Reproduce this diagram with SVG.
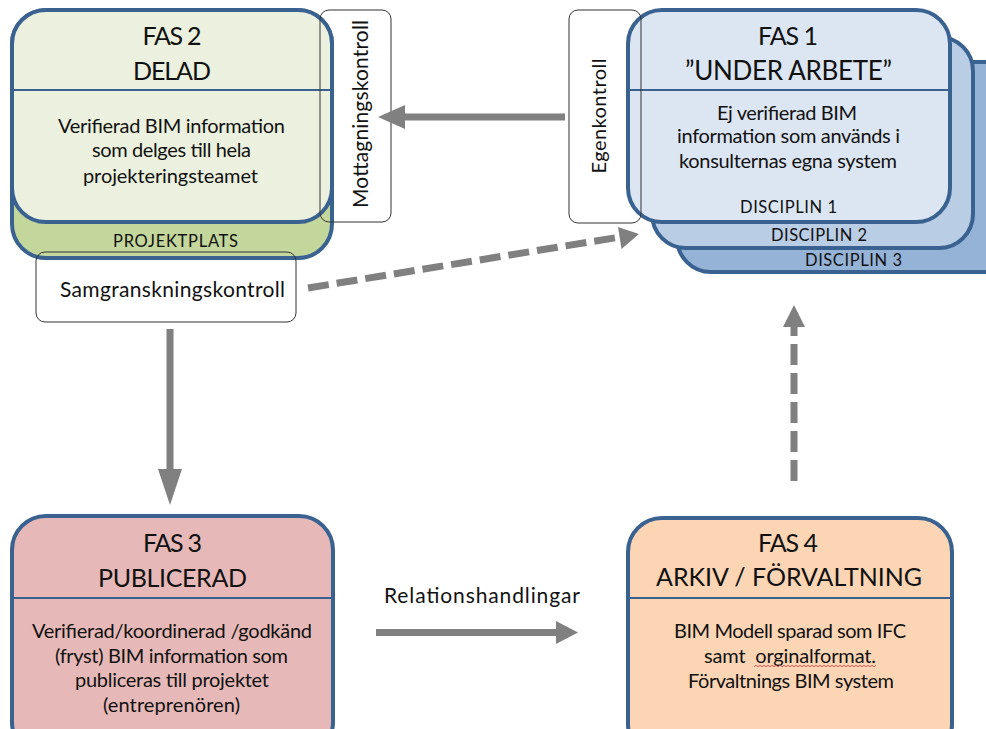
<svg xmlns="http://www.w3.org/2000/svg" width="986" height="729" viewBox="0 0 986 729">
<style>
.box{stroke:#3a6291;stroke-width:4}
.div{stroke:#3a6291;stroke-width:2}
.ctl{fill:none;stroke:#333;stroke-width:1}
text{font-family:Lato,"Liberation Sans",sans-serif;fill:#111;text-anchor:middle}
.t{font-size:25px}
.b{font-size:20px}
.w{font-size:21px}
.s{font-size:16.5px}
.arr{fill:#808080}
.dash{stroke:#808080;stroke-width:7;stroke-dasharray:21 8;fill:none}
</style>
<rect width="986" height="729" fill="#fff"/>
<g id="fas2">
<rect class="box" x="12" y="10" width="320" height="248" rx="34" fill="#c3d69b"/>
<rect class="box" x="12" y="10" width="320" height="212" rx="34" fill="#ebf1de"/>
<line class="div" x1="12" y1="90" x2="332" y2="90"/>
<text class="t" x="172" y="45" textLength="59">FAS 2</text>
<text class="t" x="172" y="80" textLength="78">DELAD</text>
<text class="b" x="171.5" y="133" textLength="227">Verifierad BIM information</text>
<text class="b" x="171.5" y="157" textLength="159">som delges till hela</text>
<text class="b" x="170.5" y="183" textLength="175">projekteringsteamet</text>
<text class="s" x="175.5" y="247" textLength="125">PROJEKTPLATS</text>
</g>
<g id="mottagningskontroll">
<rect class="ctl" x="320" y="10" width="71" height="212" rx="9"/>
<text class="w" transform="translate(368,114) rotate(-90)" textLength="188">Mottagningskontroll</text>
</g>
<g id="samgranskningskontroll">
<rect class="ctl" x="36" y="252" width="260" height="70" rx="9"/>
<text class="w" x="172.5" y="297" textLength="225">Samgranskningskontroll</text>
</g>
<g id="fas1">
<rect class="box" x="677" y="62" width="340" height="210" rx="34" fill="#95b3d7"/>
<rect class="box" x="652" y="37" width="321" height="211" rx="34" fill="#b9cde5"/>
<rect class="box" x="628" y="10" width="322" height="212" rx="34" fill="#dce6f2"/>
<line class="div" x1="628" y1="90" x2="950" y2="90"/>
<text class="t" x="788" y="45" textLength="60">FAS 1</text>
<text class="t" x="788.5" y="80" textLength="207" style="font-size:26px">”UNDER ARBETE”</text>
<text class="b" x="787" y="120" textLength="140">Ej verifierad BIM</text>
<text class="b" x="788.5" y="143" textLength="223">information som används i</text>
<text class="b" x="788" y="168" textLength="218">konsulternas egna system</text>
<text class="s" x="788.5" y="213" textLength="97">DISCIPLIN 1</text>
<text class="s" x="819" y="241" textLength="96">DISCIPLIN 2</text>
<text class="s" x="853.5" y="266" textLength="97">DISCIPLIN 3</text>
</g>
<g id="egenkontroll">
<rect class="ctl" x="569" y="10" width="72" height="213" rx="9"/>
<text class="b" transform="translate(606,116) rotate(-90)" textLength="115">Egenkontroll</text>
</g>
<g id="fas3">
<rect class="box" x="12" y="516" width="321" height="240" rx="34" fill="#e6b9b8"/>
<line class="div" x1="12" y1="598" x2="333" y2="598"/>
<text class="t" x="172.5" y="552" textLength="59">FAS 3</text>
<text class="t" x="172.5" y="587" textLength="149">PUBLICERAD</text>
<text class="b" x="172" y="638" textLength="280">Verifierad/koordinerad /godkänd</text>
<text class="b" x="171.5" y="663" textLength="233">(fryst) BIM information som</text>
<text class="b" x="172" y="687" textLength="194">publiceras till projektet</text>
<text class="b" x="171.5" y="712" textLength="137">(entreprenören)</text>
</g>
<g id="fas4">
<rect class="box" x="628" y="518" width="324" height="240" rx="34" fill="#fcd5b5"/>
<line class="div" x1="628" y1="598" x2="952" y2="598"/>
<text class="t" x="788" y="552" textLength="60">FAS 4</text>
<text class="t" x="789" y="586" textLength="266">ARKIV / FÖRVALTNING</text>
<text class="b" x="790" y="638" textLength="232">BIM Modell sparad som IFC</text>
<text class="b" x="790" y="663" textLength="172" xml:space="preserve">samt  orginalformat.</text>
<text class="b" x="791" y="688" textLength="206">Förvaltnings BIM system</text>
<path d="M754 667 l2 -2 l2 2 l2 -2 l2 2 l2 -2 l2 2 l2 -2 l2 2 l2 -2 l2 2 l2 -2 l2 2 l2 -2 l2 2 l2 -2 l2 2 l2 -2 l2 2 l2 -2 l2 2 l2 -2 l2 2 l2 -2 l2 2 l2 -2 l2 2 l2 -2 l2 2 l2 -2 l2 2 l2 -2 l2 2 l2 -2 l2 2 l2 -2 l2 2 l2 -2 l2 2 l2 -2 l2 2 l2 -2 l2 2 l2 -2 l2 2 l2 -2 l2 2 l2 -2 l2 2 l2 -2 l2 2 l2 -2 l2 2 l2 -2 l2 2 l2 -2 l2 2 l2 -2 l2 2 l2 -2 l2 2 l2 -2" fill="none" stroke="#e04040" stroke-width="0.8"/>
</g>
<g id="relationshandlingar-label">
<text class="w" x="482" y="603" textLength="196">Relationshandlingar</text>
</g>
<g id="connectors">
<rect class="arr" x="404" y="113.5" width="161" height="7"/>
<polygon class="arr" points="378,117 405,105 405,129"/>
<rect class="arr" x="166.5" y="329" width="7" height="141"/>
<polygon class="arr" points="158,469 182,469 170,505"/>
<rect class="arr" x="376" y="629" width="181" height="7"/>
<polygon class="arr" points="556,621 556,644 578,632.5"/>
<line class="dash" x1="308" y1="288" x2="620" y2="237"/>
<polygon class="arr" points="639,234 621.5,249 618,227"/>
<line class="dash" x1="794" y1="481" x2="794" y2="326"/>
<polygon class="arr" points="783,327 805,327 794,305"/>
</g>
</svg>
